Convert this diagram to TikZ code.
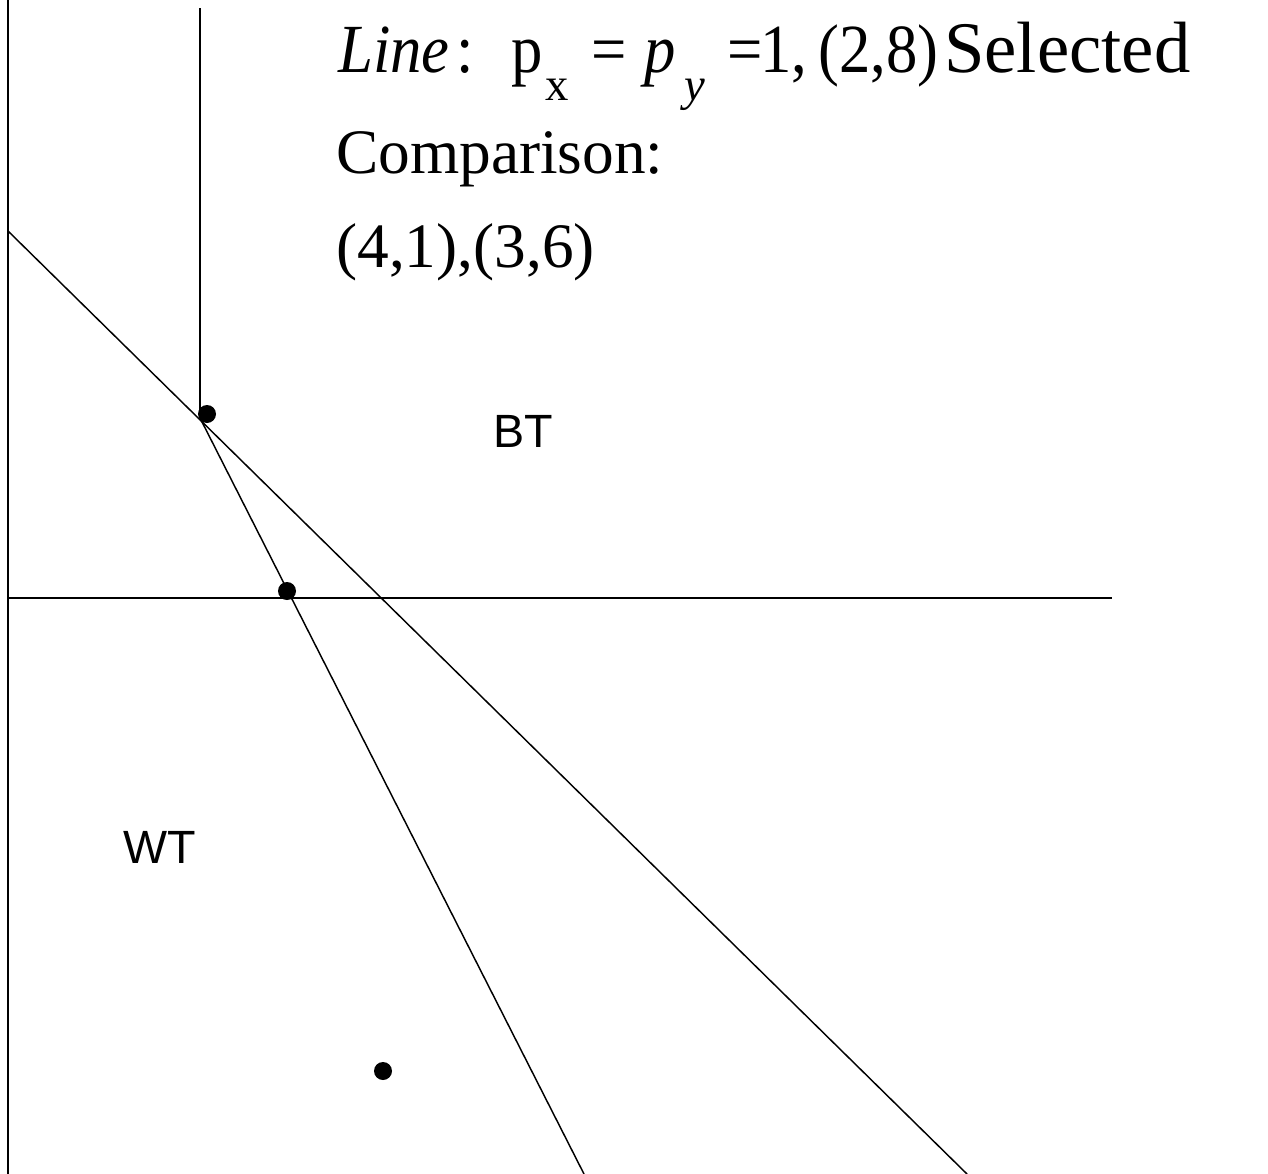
\documentclass[tikz,border=0pt]{standalone}
\usepackage{fontspec}
\usepackage{graphicx}
\setmainfont{Liberation Serif}
\setsansfont{Liberation Sans}
\newcommand{\tallpiece}[1]{\scalebox{1}[1.1]{#1}}
\begin{document}
\begin{tikzpicture}[x=0.75pt,y=-0.75pt,
  ln/.style={line width=1.1pt},
  dotn/.style={circle,fill=black,inner sep=0pt,minimum size=13.5pt},
  eq/.style={anchor=base west,inner sep=0pt,font=\fontsize{47}{56}\selectfont},
  sub/.style={anchor=base west,inner sep=0pt,font=\fontsize{35}{40}\selectfont},
  ttl/.style={anchor=base west,inner sep=0pt,font=\fontsize{47.5}{56}\selectfont},
  lbl/.style={anchor=base,inner sep=0pt,font=\sffamily\fontsize{35}{42}\selectfont}]
\useasboundingbox (0,0) rectangle (1268,1174);
% coordinates
\coordinate (lt) at (8,0);
\coordinate (lb) at (8,1174);
\coordinate (vt) at (200,8);
\coordinate (P) at (200,418);
\coordinate (d1s) at (8,231);
\coordinate (d1e) at (967,1174);
\coordinate (d2e) at (584,1174);
\coordinate (hs) at (8,598);
\coordinate (he) at (1112,598);
% lines
\draw[ln] (lt) -- (lb);
\draw[ln] (vt) -- (P);
\draw[ln] (d1s) -- (d1e);
\draw[ln] (P) -- (d2e);
\draw[ln] (hs) -- (he);
% dots
\node[dotn] (a) at (207,414) {};
\node[dotn] (b) at (287,591) {};
\node[dotn] (c) at (383,1071) {};
% title, piece by piece
\node[eq] (e1) at (338,72) {\tallpiece{\textit{Line}}};
\node[eq] (e2) at (456,72) {\tallpiece{:}};
\node[eq] (e3) at (511,72) {\tallpiece{p}};
\node[sub] (e4) at (545,100) {x};
\node[eq] (e5) at (591,72) {\tallpiece{=}};
\node[eq] (e6) at (644,72) {\tallpiece{\textit{p}}};
\node[sub] (e7) at (684,100) {\textit{y}};
\node[eq] (e8) at (727,72) {\tallpiece{=}};
\node[eq] (e9) at (760,72) {\tallpiece{1,}};
\node[eq] (e10) at (818,72) {\tallpiece{(2,8)}};
\node[eq,font=\fontsize{54.5}{60}\selectfont] (e11) at (944,72) {Selected};
\node[ttl] (t2) at (336,173) {Comparison:};
\node[ttl] (t3) at (336,267) {(4,1),(3,6)};
\node[lbl] (bt) at (523,447) {BT};
\node[lbl] (wt) at (160,863) {WT};
\end{tikzpicture}
\end{document}
